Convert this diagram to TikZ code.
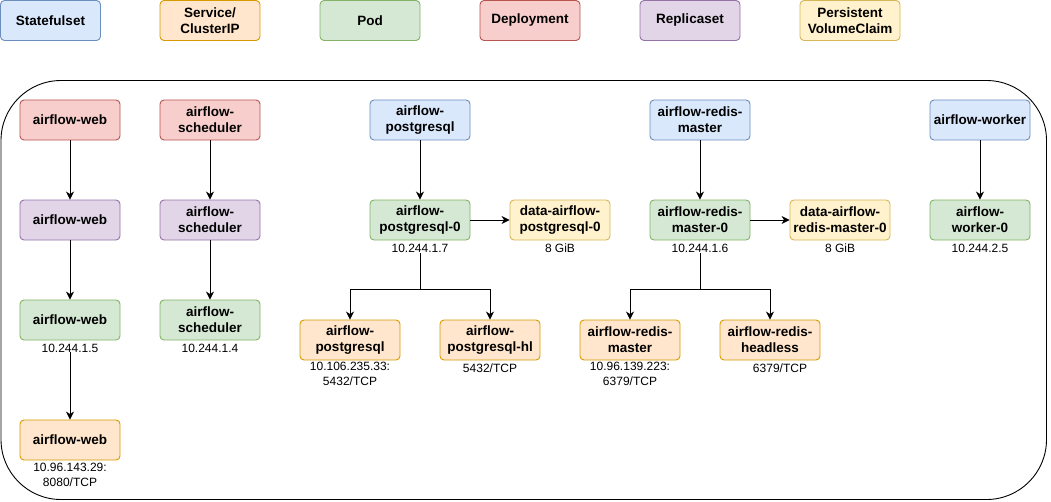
\documentclass[tikz,border=0pt]{standalone}
\usepackage{fontspec}
\setmainfont{Liberation Sans}
\usetikzlibrary{arrows.meta,positioning}
\definecolor{bfill}{HTML}{DAE8FC}\definecolor{bdraw}{HTML}{6C8EBF}
\definecolor{ofill}{HTML}{FFE6CC}\definecolor{odraw}{HTML}{D79B00}
\definecolor{gfill}{HTML}{D5E8D4}\definecolor{gdraw}{HTML}{82B366}
\definecolor{rfill}{HTML}{F8CECC}\definecolor{rdraw}{HTML}{B85450}
\definecolor{pfill}{HTML}{E1D5E7}\definecolor{pdraw}{HTML}{9673A6}
\definecolor{yfill}{HTML}{FFF2CC}\definecolor{ydraw}{HTML}{D6B656}
\tikzset{
  box/.style={rounded corners=4pt, minimum width=100pt, minimum height=40pt, inner sep=0pt,
    align=center, font=\fontsize{13.5}{16}\selectfont\bfseries, line width=0.9pt},
  sts/.style={box, fill=bfill, draw=bdraw},
  svc/.style={box, fill=ofill, draw=odraw},
  pod/.style={box, fill=gfill, draw=gdraw},
  dep/.style={box, fill=rfill, draw=rdraw},
  rs/.style={box, fill=pfill, draw=pdraw},
  pvc/.style={box, fill=yfill, draw=ydraw},
  lbl/.style={font=\fontsize{12}{15}\selectfont, align=center, inner sep=0pt, anchor=north},
  arr/.style={draw=black, line width=0.9pt, -{Stealth[length=8pt,width=8pt,inset=2.5pt]}},
  ln/.style={draw=black, line width=0.9pt},
}
\begin{document}
\begin{tikzpicture}[x=1pt,y=-1pt]
\useasboundingbox (0,0) rectangle (1051,501);
% legend
\node[sts] (lg1) at (50.5,20.5) {Statefulset};
\node[svc] (lg2) at (210,20.5) {Service/\\ClusterIP};
\node[pod] (lg3) at (370,20.5) {Pod};
\node[dep] (lg4) at (530,20.5) {Deployment};
\node[rs] (lg5) at (690,20.5) {Replicaset};
\node[pvc] (lg6) at (850,20.5) {Persistent\\VolumeClaim};
% container
\draw[line width=0.9pt, rounded corners=60pt] (1,80.5) rectangle (1046.5,499.5);
% airflow-web column
\node[dep] (wdep) at (70,120) {airflow-web};
\node[rs] (wrs) at (70,220) {airflow-web};
\node[pod] (wpod) at (70,320) {airflow-web};
\node[lbl] (wpodl) at ([yshift=-3pt]wpod.south) {10.244.1.5};
\node[svc] (wsvc) at (70,440) {airflow-web};
\node[lbl] (wsvcl) at ([yshift=-2pt]wsvc.south) {10.96.143.29:\\8080/TCP};
\draw[arr] (wdep) -- (wrs);
\draw[arr] (wrs) -- (wpod);
\draw[arr] (wpodl) -- (wsvc);
% scheduler column
\node[dep] (sdep) at (210,120) {airflow-\\scheduler};
\node[rs] (srs) at (210,220) {airflow-\\scheduler};
\node[pod] (spod) at (210,320) {airflow-\\scheduler};
\node[lbl] (spodl) at ([yshift=-3pt]spod.south) {10.244.1.4};
\draw[arr] (sdep) -- (srs);
\draw[arr] (srs) -- (spod);
% postgresql
\node[sts] (psts) at (420,120) {airflow-\\postgresql};
\node[pod] (ppod) at (420,220) {airflow-\\postgresql-0};
\node[lbl] (ppodl) at ([yshift=-3pt]ppod.south) {10.244.1.7};
\node[pvc] (ppvc) at (560,220) {data-airflow-\\postgresql-0};
\node[lbl] (ppvcl) at ([yshift=-3pt]ppvc.south) {8 GiB};
\node[svc] (psvc) at (350,340) {airflow-\\postgresql};
\node[lbl] (psvcl) at ([yshift=-1pt]psvc.south) {10.106.235.33:\\5432/TCP};
\node[svc] (phl) at (490,340) {airflow-\\postgresql-hl};
\node[lbl] (phll) at ([yshift=-3pt]phl.south) {5432/TCP};
\draw[arr] (psts) -- (ppod);
\draw[arr] (ppod) -- (ppvc);
\coordinate (pj) at (420,289.5);
\draw[ln] ([yshift=-1pt]ppodl.south) -- (pj);
\draw[arr] (pj) -| (psvc.north);
\draw[arr] (pj) -| (phl.north);
% redis
\node[sts] (rsts) at (700,120) {airflow-redis-\\master};
\node[pod] (rpod) at (700,220) {airflow-redis-\\master-0};
\node[lbl] (rpodl) at ([yshift=-3pt]rpod.south) {10.244.1.6};
\node[pvc] (rpvc) at (840,220) {data-airflow-\\redis-master-0};
\node[lbl] (rpvcl) at ([yshift=-3pt]rpvc.south) {8 GiB};
\node[svc] (rsvc) at (630,340) {airflow-redis-\\master};
\node[lbl] (rsvcl) at ([yshift=-1pt]rsvc.south) {10.96.139.223:\\6379/TCP};
\node[svc] (rhl) at (770,340) {airflow-redis-\\headless};
\node[lbl] (rhll) at ([xshift=10pt,yshift=-3pt]rhl.south) {6379/TCP};
\draw[arr] (rsts) -- (rpod);
\draw[arr] (rpod) -- (rpvc);
\coordinate (rj) at (700,289.5);
\draw[ln] ([yshift=-1pt]rpodl.south) -- (rj);
\draw[arr] (rj) -| (rsvc.north);
\draw[arr] (rj) -| (rhl.north);
% worker
\node[sts] (ksts) at (980,120) {airflow-worker};
\node[pod] (kpod) at (980,220) {airflow-\\worker-0};
\node[lbl] (kpodl) at ([yshift=-3pt]kpod.south) {10.244.2.5};
\draw[arr] (ksts) -- (kpod);
\end{tikzpicture}
\end{document}
